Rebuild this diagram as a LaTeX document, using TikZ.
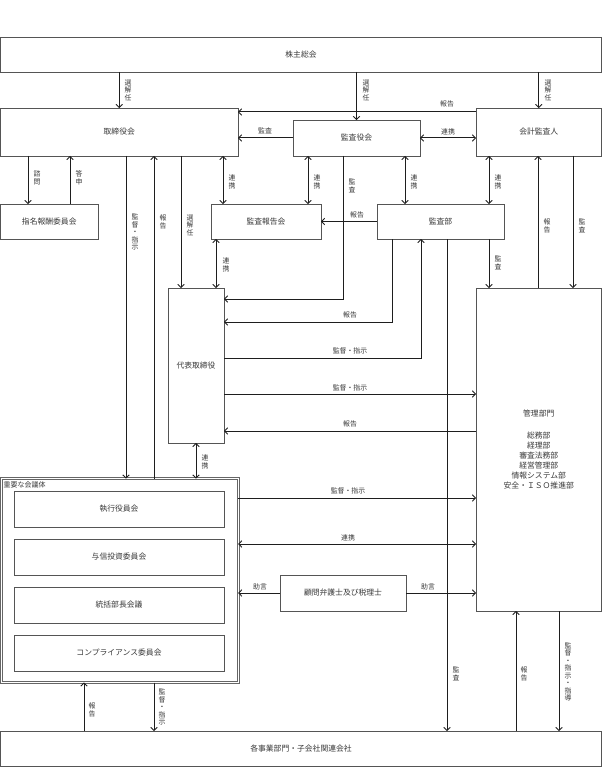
\documentclass[tikz,border=0pt]{standalone}
\usepackage{fontspec}
\setmainfont{Noto Sans CJK JP}
\newfontfamily\cjk{Noto Sans CJK JP}
\usetikzlibrary{arrows.meta}
\definecolor{boxc}{HTML}{555555}
\definecolor{linec}{HTML}{1E1E1E}
\definecolor{txtc}{HTML}{383838}
\newcommand{\boxfont}{\cjk\fontsize{7.8}{10}\selectfont}
\newcommand{\labfont}{\cjk\fontsize{6.9}{7.5}\selectfont}
\tikzset{
  box/.style={draw=boxc, line width=0.8pt, fill=white, anchor=north west, inner sep=0pt, outer sep=0pt, font=\boxfont, text=txtc, align=center},
  arr/.style={draw=linec, line width=1pt, -{Straight Barb[length=3pt,width=6.5pt,line width=0.9pt]}},
  darr/.style={draw=linec, line width=1pt, {Straight Barb[length=3pt,width=6.5pt,line width=0.9pt]}-{Straight Barb[length=3pt,width=6.5pt,line width=0.9pt]}},
  lab/.style={font=\labfont, text=txtc, inner sep=0pt, align=center},
}
\begin{document}
\begin{tikzpicture}[x=1pt,y=-1pt]
\useasboundingbox (0,0) rectangle (602,767);
% boxes
\node[box, minimum width=601pt, minimum height=35pt] (shu) at (0.5,37) {株主総会};
\node[box, minimum width=237.5pt, minimum height=48pt] (tori) at (0.5,108) {取締役会};
\node[box, minimum width=127pt, minimum height=36pt] (kansa) at (293,120) {監査役会};
\node[box, minimum width=125.5pt, minimum height=48pt] (kaikei) at (476,108) {会計監査人};
\node[box, minimum width=97.5pt, minimum height=35pt] (shimei) at (0.5,204) {指名報酬委員会};
\node[box, minimum width=110pt, minimum height=35pt] (hokoku) at (211,204) {監査報告会};
\node[box, minimum width=127pt, minimum height=35pt] (bu) at (377,204) {監査部};
\node[box, minimum width=56pt, minimum height=155pt] (dai) at (168,288) {代表取締役};
\node[box, minimum width=125.5pt, minimum height=323pt] (kanri) at (476,288) {管理部門\\[12pt]総務部\\経理部\\審査法務部\\経営管理部\\情報システム部\\安全・ＩＳＯ推進部};
\node[box, draw=boxc!90, double=white, double distance=1pt, line width=0.8pt, minimum width=236.5pt, minimum height=204pt] (juyo) at (1.7,478.5) {};
\node[lab, anchor=north west, font=\cjk\fontsize{7}{8}\selectfont] (juyol) at (3.5,481) {重要な会議体};
\node[box, minimum width=210pt, minimum height=36pt] (j1) at (14,491) {執行役員会};
\node[box, minimum width=210pt, minimum height=36pt] (j2) at (14,539) {与信投資委員会};
\node[box, minimum width=210pt, minimum height=36pt] (j3) at (14,587) {統括部長会議};
\node[box, minimum width=210pt, minimum height=36pt] (j4) at (14,635) {コンプライアンス委員会};
\node[box, minimum width=126pt, minimum height=36pt] (komon) at (280,575) {顧問弁護士及び税理士};
\node[box, minimum width=601pt, minimum height=35pt] (kaku) at (0.5,731) {各事業部門・子会社関連会社};
% x / y coordinates
\foreach \xx in {28,70,84,126,154,181,196,216,223,308,343,392,405,421,447,489,516,538,559,573}{\coordinate (x\xx) at (\xx,0);}
\foreach \yy in {112,299,322,358,394,431,498,544}{\coordinate (y\yy) at (0,\yy);}
% connectors
\draw[arr] (shu.south -| tori.north) -- (tori.north);
\draw[arr] (shu.south -| kansa.north) -- (kansa.north);
\draw[arr] (shu.south -| kaikei.north) -- (kaikei.north);
\draw[arr] (kaikei.west |- y112) -- (tori.east |- y112);
\draw[arr] (kansa.west) -- (tori.east |- kansa.west);
\draw[darr] (kansa.east) -- (kaikei.west |- kansa.east);
\draw[arr] (tori.south -| x28) -- (shimei.north -| x28);
\draw[arr] (shimei.north -| x70) -- (tori.south -| x70);
\draw[arr] (tori.south -| x126) -- (juyo.north -| x126);
\draw[arr] (juyo.north -| x154) -- (tori.south -| x154);
\draw[arr] (tori.south -| x181) -- (dai.north -| x181);
\draw[darr] (tori.south -| x223) -- (hokoku.north -| x223);
\draw[darr] (kansa.south -| x308) -- (hokoku.north -| x308);
\draw[arr] (kansa.south -| x343) -- (x343 |- y299) -- (dai.east |- y299);
\draw[darr] (kansa.south -| x405) -- (bu.north -| x405);
\draw[darr] (kaikei.south -| x489) -- (bu.north -| x489);
\draw[arr] (bu.west) -- (hokoku.east |- bu.west);
\draw[darr] (hokoku.south -| x216) -- (dai.north -| x216);
\draw[arr] (bu.south -| x392) -- (x392 |- y322) -- (dai.east |- y322);
\draw[arr] (dai.east |- y358) -- (x421 |- y358) -- (bu.south -| x421);
\draw[arr] (dai.east |- y394) -- (kanri.west |- y394);
\draw[arr] (kanri.west |- y431) -- (dai.east |- y431);
\draw[arr] (bu.south -| x447) -- (kaku.north -| x447);
\draw[arr] (bu.south -| x489) -- (kanri.north -| x489);
\draw[arr] (kanri.north -| x538) -- (kaikei.south -| x538);
\draw[arr] (kaikei.south -| x573) -- (kanri.north -| x573);
\draw[darr] (dai.south -| x196) -- (juyo.north -| x196);
\draw[arr] (juyo.east |- y498) -- (kanri.west |- y498);
\draw[darr] (juyo.east |- y544) -- (kanri.west |- y544);
\draw[arr] (komon.west) -- (juyo.east |- komon.west);
\draw[arr] (komon.east) -- (kanri.west |- komon.east);
\draw[arr] (kaku.north -| x84) -- (juyo.south -| x84);
\draw[arr] (juyo.south -| x154) -- (kaku.north -| x154);
\draw[arr] (kaku.north -| x516) -- (kanri.south -| x516);
\draw[arr] (kanri.south -| x559) -- (kaku.north -| x559);
% labels
\node[lab] (l1) at (128,90) {選\\解\\任};
\node[lab] (l2) at (366,90) {選\\解\\任};
\node[lab] (l3) at (548,90) {選\\解\\任};
\node[lab] (l4) at (447,104) {報告};
\node[lab] (l5) at (265,131) {監査};
\node[lab] (l6) at (448,132) {連携};
\node[lab] (l7) at (37,178) {諮\\問};
\node[lab] (l8) at (79,178) {答\\申};
\node[lab] (l9) at (135,232) {監\\督\\・\\指\\示};
\node[lab] (l10) at (163,222) {報\\告};
\node[lab] (l11) at (190,225) {選\\解\\任};
\node[lab] (l12) at (232,182) {連\\携};
\node[lab] (l13) at (317,182) {連\\携};
\node[lab] (l14) at (352,186) {監\\査};
\node[lab] (l15) at (414,182) {連\\携};
\node[lab] (l16) at (498,182) {連\\携};
\node[lab] (l17) at (357,215) {報告};
\node[lab] (l18) at (226,265) {連\\携};
\node[lab] (l19) at (350,315) {報告};
\node[lab] (l20) at (350,351) {監督・指示};
\node[lab] (l21) at (350,388) {監督・指示};
\node[lab] (l22) at (350,424) {報告};
\node[lab] (l23) at (498,263) {監\\査};
\node[lab] (l24) at (547,226) {報\\告};
\node[lab] (l25) at (582,226) {監\\査};
\node[lab] (l26) at (205,462) {連\\携};
\node[lab] (l27) at (348,491) {監督・指示};
\node[lab] (l28) at (348,538) {連携};
\node[lab] (l29) at (260,587) {助言};
\node[lab] (l30) at (428,587) {助言};
\node[lab] (l31) at (456,674) {監\\査};
\node[lab] (l32) at (524,674) {報\\告};
\node[lab] (l33) at (568,672) {監\\督\\・\\指\\示\\・\\指\\導};
\node[lab] (l34) at (92,710) {報\\告};
\node[lab] (l35) at (162,707) {監\\督\\・\\指\\示};
\end{tikzpicture}
\end{document}
